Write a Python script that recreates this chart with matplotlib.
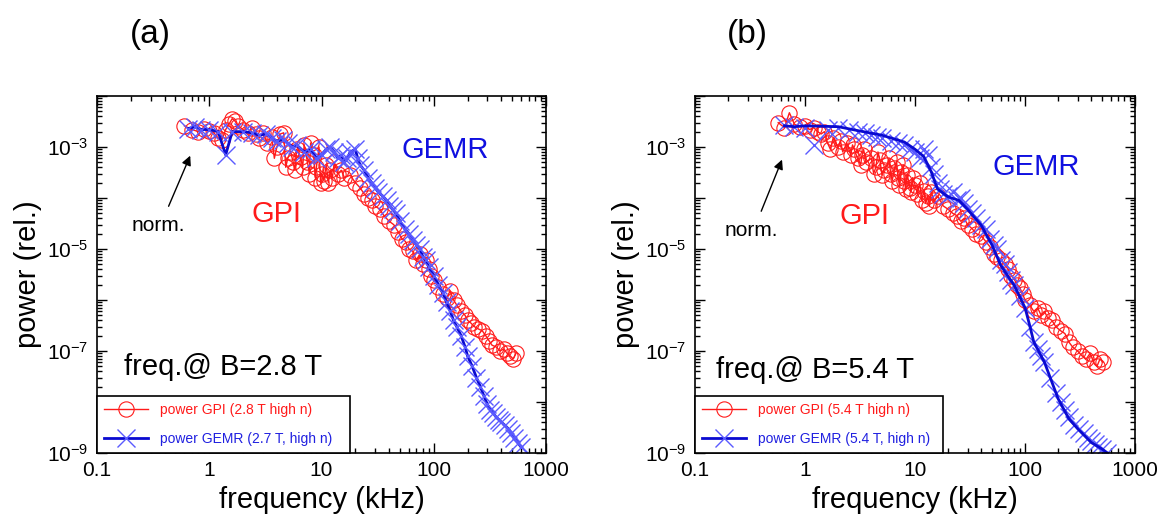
import matplotlib
matplotlib.use("Agg")
import matplotlib.pyplot as plt
from matplotlib.ticker import LogLocator, FuncFormatter, NullFormatter
from matplotlib.lines import Line2D
import numpy as np

plt.rcParams['font.family'] = ['Liberation Sans', 'DejaVu Sans']
plt.rcParams['mathtext.fontset'] = 'custom'
plt.rcParams['mathtext.rm'] = 'Liberation Sans'

# ---- panel (a): B = 2.8 T ----
gpi_a_f = [0.6, 0.7, 0.8, 0.9, 1.0, 1.1, 1.2, 1.3, 1.4, 1.5, 1.6, 1.7, 1.8, 2.0, 2.2, 2.4, 2.6, 2.8,
           3.0, 3.3, 3.6, 3.8, 4.0, 4.3, 4.6, 4.8, 5.0, 5.3, 5.6, 5.8, 6.0, 6.5, 6.8, 7.0, 7.5, 7.8,
           8.0, 8.5, 8.8, 9.0, 9.5, 9.8, 10, 10.5, 11, 11.5, 12, 12.5, 13, 14, 15, 16, 18, 20, 22,
           24, 26, 28, 30, 33, 36, 40, 44, 48, 52, 56, 60, 65, 70, 75, 80, 85, 90, 95, 100, 110,
           120, 130, 140, 150, 160, 175, 190, 200, 215, 230, 250, 270, 290, 310, 330, 360, 390,
           420, 450, 480, 510, 540]
gpi_a_p = [2.6e-3, 2.2e-3, 2.0e-3, 2.3e-3, 2.1e-3, 1.9e-3, 1.5e-3, 1.4e-3, 2.2e-3, 2.8e-3, 3.6e-3,
           3.2e-3, 2.6e-3, 2.2e-3, 1.9e-3, 2.4e-3, 1.8e-3, 1.5e-3, 1.9e-3, 1.2e-3, 1.6e-3, 6e-4,
           1.0e-3, 1.8e-3, 1.9e-3, 4e-4, 6e-4, 8e-4, 5e-4, 3.5e-4, 9e-4, 6.5e-4, 4e-4, 1.1e-3, 5e-4,
           3e-4, 1.2e-3, 7e-4, 2.5e-4, 4e-4, 1.0e-3, 2e-4, 3e-4, 2.2e-4, 4.5e-4, 2e-4, 3.5e-4,
           2.5e-4, 5e-4, 3e-4, 3.5e-4, 2.5e-4, 2.8e-4, 2.0e-4, 1.6e-4, 1.2e-4, 1.0e-4, 9e-5, 7e-5,
           6e-5, 4.5e-5, 3.5e-5, 3e-5, 2.2e-5, 1.6e-5, 1.4e-5, 1.0e-5, 9e-6, 6e-6, 8e-6, 5e-6, 6e-6,
           4e-6, 3e-6, 2.5e-6, 1.8e-6, 1.3e-6, 1.1e-6, 1.5e-6, 1.0e-6, 8e-7, 6e-7, 5e-7, 4e-7,
           3.5e-7, 3e-7, 2.7e-7, 2.5e-7, 2e-7, 1.6e-7, 1.3e-7, 1.2e-7, 1.0e-7, 1.1e-7, 9e-8, 8e-8,
           7e-8, 9e-8]

gemr_a_f = [0.65, 0.75, 0.85, 1.0, 1.2, 1.4, 1.6, 2.0, 2.4, 2.8, 3.2, 3.6, 4.0, 4.5, 5.0, 5.5, 6.0,
            7.0, 8.0, 9.0, 10, 11, 12, 13, 14, 15, 16, 17, 18, 20, 21, 22, 24, 26, 28, 30, 32, 35,
            38, 40, 43, 46, 50, 55, 60, 65, 70, 75, 80, 85, 90, 100, 110, 120, 130, 140, 150, 160,
            175, 190, 200, 220, 240, 260, 280, 300, 320, 340, 360, 380, 400, 430, 460, 490, 520,
            560, 600]
gemr_a_p = [2.3e-3, 2.5e-3, 2.2e-3, 2.2e-3, 2.0e-3, 7e-4, 2.0e-3, 2.0e-3, 1.9e-3, 1.7e-3, 1.8e-3,
            1.5e-3, 1.3e-3, 1.4e-3, 1.2e-3, 1.0e-3, 1.1e-3, 8e-4, 9e-4, 6e-4, 7e-4, 9e-4, 1.0e-3,
            8e-4, 6e-4, 7e-4, 5e-4, 6e-4, 8e-4, 9e-4, 6e-4, 4.5e-4, 3.5e-4, 2.5e-4, 2e-4, 1.6e-4,
            1.3e-4, 1.1e-4, 9e-5, 7e-5, 6e-5, 5e-5, 3.5e-5, 2.5e-5, 2e-5, 1.5e-5, 1.2e-5, 1.0e-5,
            7e-6, 6e-6, 4.5e-6, 3e-6, 2e-6, 1.4e-6, 9e-7, 6e-7, 4e-7, 3e-7, 2e-7, 1.2e-7, 8e-8,
            5e-8, 3e-8, 2e-8, 1.3e-8, 9e-9, 7e-9, 6e-9, 5e-9, 4.5e-9, 4e-9, 3.5e-9, 3e-9, 2.5e-9,
            2e-9, 1.6e-9, 1.3e-9]

# ---- panel (b): B = 5.4 T ----
gpi_b_f = [0.57, 0.65, 0.72, 0.8, 0.9, 1.0, 1.1, 1.2, 1.3, 1.4, 1.5, 1.6, 1.7, 1.8, 2.0, 2.1, 2.2,
           2.4, 2.6, 2.7, 2.8, 3.0, 3.2, 3.3, 3.4, 3.6, 4.0, 4.2, 4.4, 4.6, 4.8, 5.0, 5.2, 5.6, 5.8,
           6.0, 6.2, 6.5, 6.8, 7.0, 7.2, 7.5, 7.8, 8.0, 8.2, 8.5, 9.0, 9.2, 9.5, 10, 10.5, 11,
           11.5, 12, 12.5, 13, 13.5, 14, 15, 16, 18, 20, 22, 24, 26, 28, 30, 33, 36, 40, 44, 48,
           52, 56, 60, 65, 70, 75, 80, 85, 90, 95, 100, 110, 120, 130, 140, 150, 160, 175, 190,
           210, 230, 250, 270, 300, 330, 360, 390, 420, 450, 480, 510]
gpi_b_p = [3.0e-3, 2.4e-3, 4.7e-3, 2.8e-3, 2.5e-3, 2.6e-3, 2.2e-3, 2.4e-3, 2.0e-3, 1.8e-3, 2.0e-3,
           1.2e-3, 9e-4, 1.5e-3, 1.0e-3, 1.3e-3, 8e-4, 1.2e-3, 7e-4, 1.1e-3, 9e-4, 6e-4, 4.5e-4,
           7e-4, 9e-4, 5e-4, 6e-4, 3e-4, 4e-4, 8e-4, 5.5e-4, 2.8e-4, 3.5e-4, 4.5e-4, 6e-4, 3e-4,
           2.2e-4, 3.8e-4, 5e-4, 2.5e-4, 1.8e-4, 3.2e-4, 4.5e-4, 2.2e-4, 1.5e-4, 2.8e-4, 1.6e-4,
           1.3e-4, 2.5e-4, 1.8e-4, 1.2e-4, 2e-4, 9e-5, 1.4e-4, 8e-5, 1.1e-4, 7e-5, 1.3e-4, 9e-5,
           1.1e-4, 7e-5, 6e-5, 5e-5, 4.5e-5, 3.5e-5, 4e-5, 3e-5, 2.5e-5, 2e-5, 1.8e-5, 1.4e-5,
           1.1e-5, 8e-6, 7e-6, 6e-6, 5e-6, 4e-6, 3e-6, 2.5e-6, 2e-6, 1.7e-6, 1.3e-6, 1.0e-6, 8e-7,
           6e-7, 7e-7, 5e-7, 6e-7, 4.5e-7, 4e-7, 3e-7, 2.5e-7, 2.2e-7, 1.5e-7, 1.2e-7, 1.0e-7,
           8e-8, 7e-8, 9e-8, 6e-8, 5e-8, 7e-8, 6e-8]

gemr_b_f = [0.65, 0.8, 1.0, 1.2, 1.6, 2.0, 2.5, 3.0, 3.5, 4.0, 4.5, 5, 6, 7, 8, 9, 10, 11, 12, 13,
            14, 15, 16, 17, 18, 20, 22, 24, 26, 28, 30, 33, 36, 40, 44, 48, 52, 56, 60, 65, 70, 75,
            80, 90, 100, 110, 120, 130, 140, 150, 170, 190, 210, 230, 250, 280, 310, 340, 370, 400,
            430, 460, 500, 550]
gemr_b_p = [2.7e-3, 2.5e-3, 2.4e-3, 1.1e-3, 2.2e-3, 2.4e-3, 2.2e-3, 2.0e-3, 1.9e-3, 1.7e-3, 1.6e-3,
            1.5e-3, 1.3e-3, 1.2e-3, 1.1e-3, 9e-4, 8e-4, 6e-4, 9e-4, 7e-4, 4e-4, 3e-4, 2e-4, 1.5e-4,
            1.2e-4, 1.1e-4, 1.3e-4, 9e-5, 1e-4, 8e-5, 6e-5, 5e-5, 4e-5, 3e-5, 2.5e-5, 1.6e-5,
            1.2e-5, 1e-5, 6e-6, 5e-6, 3.5e-6, 2.5e-6, 2e-6, 1.2e-6, 7e-7, 3e-7, 1.5e-7, 1.1e-7,
            8e-8, 6e-8, 3e-8, 1.5e-8, 1e-8, 7e-9, 5e-9, 3.5e-9, 3e-9, 2.5e-9, 2e-9, 1.7e-9,
            1.5e-9, 1.3e-9, 1.2e-9, 1.0e-9]
# smooth GEMR trace drawn through panel (b)
gemr_b_line_f = [0.65, 0.8, 1, 2, 3, 5, 8, 10, 12, 14, 16, 20, 25, 30, 40, 50, 60, 80, 100, 110,
                 120, 150, 200, 250, 300, 400, 500, 600]
gemr_b_line_p = [2.6e-3, 2.5e-3, 2.6e-3, 2.5e-3, 2.1e-3, 1.7e-3, 1.25e-3, 9e-4, 6.5e-4, 3.3e-4,
                 1.5e-4, 1.05e-4, 9e-5, 6e-5, 2.9e-5, 1.2e-5, 4.8e-6, 1.9e-6, 7e-7, 3.2e-7, 1.5e-7,
                 6e-8, 1.15e-8, 4.7e-9, 3e-9, 1.6e-9, 1.2e-9, 9e-10]

RED = '#ff1a1a'
BLUE_LINE = '#0a0ad0'
BLUE_MK = '#5a5aff'


def fmt_y(v, pos):
    e = int(round(np.log10(v)))
    if e % 2 == 0:
        return ''
    return r'$\mathregular{10^{%d}}$' % e


def fmt_x(v, pos):
    return '%g' % v


def style_axes(ax):
    ax.set_xscale('log')
    ax.set_yscale('log')
    ax.set_xlim(0.1, 1000)
    ax.set_ylim(1e-9, 1e-2)
    ax.yaxis.set_major_locator(LogLocator(base=10, numticks=20))
    ax.yaxis.set_minor_locator(LogLocator(base=10, subs=np.arange(2, 10), numticks=20))
    ax.yaxis.set_major_formatter(FuncFormatter(fmt_y))
    ax.yaxis.set_minor_formatter(NullFormatter())
    ax.xaxis.set_major_formatter(FuncFormatter(fmt_x))
    ax.xaxis.set_minor_formatter(NullFormatter())
    ax.tick_params(which='both', direction='in', top=True, right=True, labelsize=15, width=1)
    ax.tick_params(which='major', length=7, pad=6)
    ax.tick_params(which='minor', length=3.5)
    for s in ax.spines.values():
        s.set_linewidth(1.2)
    ax.set_xlabel('frequency (kHz)', fontsize=21, labelpad=4)
    ax.set_ylabel('power (rel.)', fontsize=21, labelpad=4)


fig = plt.figure(figsize=(11.66, 5.22), dpi=100)
ax1 = fig.add_axes([0.0832, 0.1322, 0.3851, 0.6839])
ax2 = fig.add_axes([0.5961, 0.1322, 0.3774, 0.6839])

# panel (a)
l1, = ax1.plot(gpi_a_f, gpi_a_p, '-', color=RED, lw=1, marker='o', ms=11, mfc='none',
               mec=RED, mew=0.8)
ax1.plot(gemr_a_f, gemr_a_p, '-', color=BLUE_LINE, lw=2, marker='x', ms=13,
         mec=BLUE_MK, mew=1.0)
h_gemr = Line2D([], [], color=BLUE_LINE, lw=2, marker='x', ms=13, mec=BLUE_MK, mew=1.0)

# panel (b)
l2, = ax2.plot(gpi_b_f, gpi_b_p, '-', color=RED, lw=1, marker='o', ms=11, mfc='none',
               mec=RED, mew=0.8)
ax2.plot(gemr_b_f, gemr_b_p, 'x', ms=13, mec=BLUE_MK, mew=1.0)
ax2.plot(gemr_b_line_f, gemr_b_line_p, '-', color=BLUE_LINE, lw=2)

labels = [('power GPI (2.8 T high n)', 'power GEMR (2.7 T, high n)', 'freq.@ B=2.8 T', l1),
          ('power GPI (5.4 T high n)', 'power GEMR (5.4 T, high n)', 'freq.@ B=5.4 T', l2)]

for ax, (lg1, lg2, ftxt, hl), pos in zip([ax1, ax2], labels,
                                         [dict(gemr=(0.677, 0.848), gpi=(0.344, 0.67), norm=(0.078, 0.638),
                                               tail=(0.157, 0.684), head=(0.21, 0.84), freq=(0.059, 0.241)),
                                          dict(gemr=(0.676, 0.80), gpi=(0.328, 0.665), norm=(0.068, 0.623),
                                               tail=(0.148, 0.670), head=(0.20, 0.829), freq=(0.048, 0.232))]):
    style_axes(ax)
    ax.text(*pos['gemr'], 'GEMR', transform=ax.transAxes, color='#1010e0', fontsize=21,
            va='center', ha='left')
    ax.text(*pos['gpi'], 'GPI', transform=ax.transAxes, color=RED, fontsize=21,
            va='center', ha='left')
    ax.text(*pos['norm'], 'norm.', transform=ax.transAxes, color='black', fontsize=15,
            va='center', ha='left')
    ax.annotate('', xy=pos['head'], xycoords='axes fraction', xytext=pos['tail'],
                textcoords='axes fraction',
                arrowprops=dict(arrowstyle='-|>', color='black', lw=1, mutation_scale=14))
    ax.text(*pos['freq'], ftxt, transform=ax.transAxes, color='black', fontsize=21,
            va='center', ha='left')
    leg = ax.legend([hl, h_gemr], [lg1, lg2], loc='lower left', bbox_to_anchor=(0, 0, 0.564, 0.162),
                    mode='expand', borderaxespad=0, fontsize=10, handlelength=3.2,
                    labelspacing=1.1, borderpad=0.5, fancybox=False, framealpha=1,
                    edgecolor='black')
    leg.get_frame().set_linewidth(1.2)
    for t, c in zip(leg.get_texts(), [RED, '#2020e0']):
        t.set_color(c)

fig.text(0.129, 0.933, '(a)', fontsize=24, ha='center', va='center')
fig.text(0.641, 0.933, '(b)', fontsize=24, ha='center', va='center')

fig.savefig('out.png', dpi=100)
